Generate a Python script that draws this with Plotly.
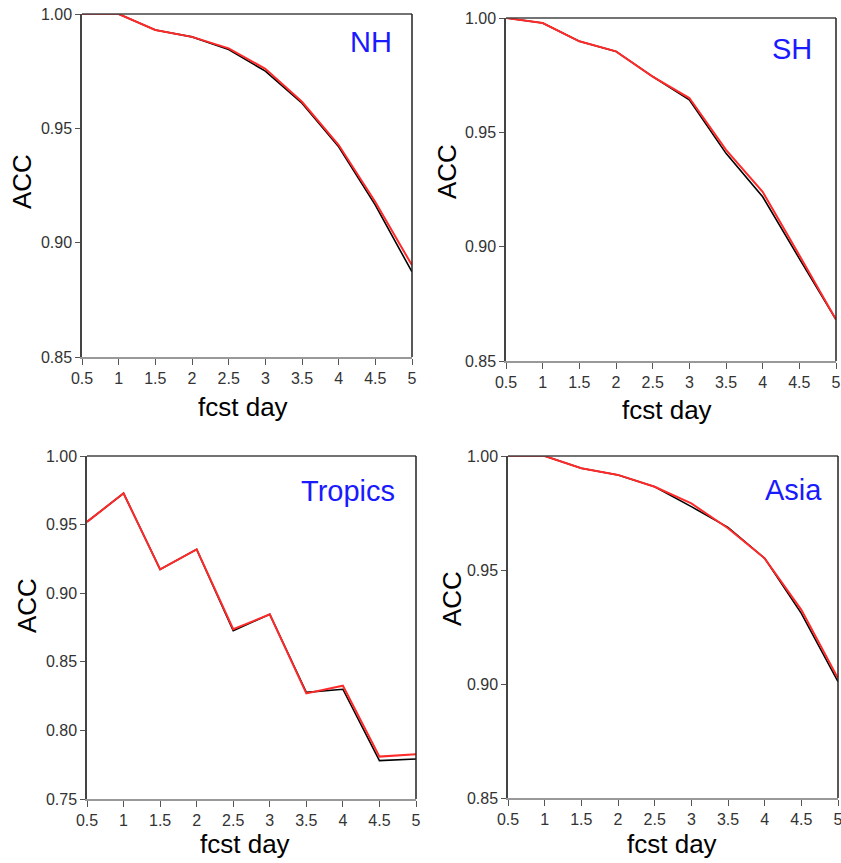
import plotly.graph_objects as go

days = [0.5, 1, 1.5, 2, 2.5, 3, 3.5, 4, 4.5, 5]
x_ticks = [0.5, 1, 1.5, 2, 2.5, 3, 3.5, 4, 4.5, 5]
x_ticktext = ["0.5", "1", "1.5", "2", "2.5", "3", "3.5", "4", "4.5", "5"]

regions = ["NH", "SH", "Tropics", "Asia"]

nh_black = [1.000, 1.000, 0.993, 0.990, 0.9845, 0.975, 0.9610, 0.9419, 0.9164, 0.8872]
nh_red   = [1.000, 1.000, 0.993, 0.990, 0.9850, 0.9760, 0.9616, 0.9427, 0.9178, 0.8901]
sh_black = [1.000, 0.9978, 0.9898, 0.9854, 0.9744, 0.9642, 0.9408, 0.9218, 0.8948, 0.8681]
sh_red   = [1.000, 0.9978, 0.9898, 0.9854, 0.9744, 0.9650, 0.9423, 0.9240, 0.8963, 0.8681]
tr_black = [0.952, 0.9728, 0.9174, 0.9320, 0.8727, 0.8846, 0.8277, 0.8300, 0.7780, 0.7792]
tr_red   = [0.952, 0.9728, 0.9174, 0.9320, 0.8737, 0.8846, 0.8270, 0.8326, 0.7809, 0.7826]
as_black = [1.000, 1.000, 0.9946, 0.9917, 0.9865, 0.9778, 0.9687, 0.9551, 0.9310, 0.9010]
as_red   = [1.000, 1.000, 0.9946, 0.9917, 0.9865, 0.9792, 0.9683, 0.9551, 0.9325, 0.9025]

y_ranges = [[0.85, 1.00], [0.85, 1.00], [0.75, 1.00], [0.85, 1.00]]
y_tickvals = [[0.85, 0.90, 0.95, 1.00], [0.85, 0.90, 0.95, 1.00],
              [0.75, 0.80, 0.85, 0.90, 0.95, 1.00], [0.85, 0.90, 0.95, 1.00]]

black_series = [nh_black, sh_black, tr_black, as_black]
red_series = [nh_red, sh_red, tr_red, as_red]

W, H = 841, 863
# plot-area boxes in pixels: left, right, top, bottom
boxes = [(82, 412, 14, 357), (506, 836, 18, 361), (87, 416, 456, 799), (508, 838, 456, 798)]
label_pos = [(0.876, 0.918), (0.867, 0.91), (0.793, 0.898), (0.864, 0.90)]
acc_pos = [(22, 182), (447, 172), (27, 606), (452, 598)]
fcst_pos = [(243, 407), (667, 410), (245, 844), (672, 844)]

TICKFONT = dict(family="Liberation Sans Narrow, Arial Narrow, Liberation Sans, Arial", size=16, color="#333333")
TITLEFONT = dict(family="Liberation Sans, Arial", size=26, color="#000000")

fig = go.Figure()
annotations = []
for i, name in enumerate(regions):
    xa = "x" if i == 0 else f"x{i+1}"
    ya = "y" if i == 0 else f"y{i+1}"
    fig.add_trace(go.Scatter(x=days, y=black_series[i], mode="lines",
                             line=dict(color="#000000", width=1.6),
                             xaxis=xa, yaxis=ya, showlegend=False))
    fig.add_trace(go.Scatter(x=days, y=red_series[i], mode="lines",
                             line=dict(color="#ff2a2a", width=2),
                             xaxis=xa, yaxis=ya, showlegend=False))
    l, r, t, b = boxes[i]
    xkey = "xaxis" if i == 0 else f"xaxis{i+1}"
    ykey = "yaxis" if i == 0 else f"yaxis{i+1}"
    fig.layout[xkey] = dict(
        domain=[l / W, r / W], anchor=ya, range=[0.5, 5],
        tickmode="array", tickvals=x_ticks, ticktext=x_ticktext,
        ticks="outside", ticklen=6, tickcolor="#555555", tickwidth=1,
        showline=True, linecolor="#999999", linewidth=2, mirror=False,
        showgrid=False, zeroline=False, tickfont=TICKFONT, automargin=False,
        ticklabeloverflow="allow", fixedrange=True)
    fig.layout[ykey] = dict(
        domain=[1 - b / H, 1 - t / H], anchor=xa, range=y_ranges[i],
        tickmode="array", tickvals=y_tickvals[i],
        ticktext=[f"{v:.2f}" for v in y_tickvals[i]],
        ticks="outside", ticklen=5, tickcolor="#555555", tickwidth=1,
        showline=True, linecolor="#444444", linewidth=1.5, mirror=False,
        showgrid=False, zeroline=False, tickfont=TICKFONT, automargin=False,
        ticklabeloverflow="allow", fixedrange=True)
    # top and right frame lines
    fig.add_shape(type="line", xref=f"{xa} domain", yref=f"{ya} domain",
                  x0=0, x1=1, y0=1, y1=1, line=dict(color="#444444", width=1.5))
    fig.add_shape(type="line", xref=f"{xa} domain", yref=f"{ya} domain",
                  x0=1, x1=1, y0=0, y1=1, line=dict(color="#222222", width=1.5))
    lx, ly = label_pos[i]
    annotations.append(dict(text=name, xref=f"{xa} domain", yref=f"{ya} domain",
                            x=lx, y=ly, xanchor="center", yanchor="middle",
                            showarrow=False,
                            font=dict(family="Liberation Sans, Arial", size=29, color="#1a1aff")))
    ax_, ay_ = acc_pos[i]
    annotations.append(dict(text="ACC", xref="paper", yref="paper",
                            x=ax_ / W, y=1 - ay_ / H, xanchor="center", yanchor="middle",
                            textangle=-90, showarrow=False, font=TITLEFONT))
    fx, fy = fcst_pos[i]
    annotations.append(dict(text="fcst day", xref="paper", yref="paper",
                            x=fx / W, y=1 - fy / H, xanchor="center", yanchor="middle",
                            showarrow=False, font=TITLEFONT))

fig.update_layout(width=W, height=H, margin=dict(l=0, r=0, t=0, b=0),
                  paper_bgcolor="white", plot_bgcolor="white",
                  annotations=annotations, showlegend=False)

fig.write_html("out.html")
